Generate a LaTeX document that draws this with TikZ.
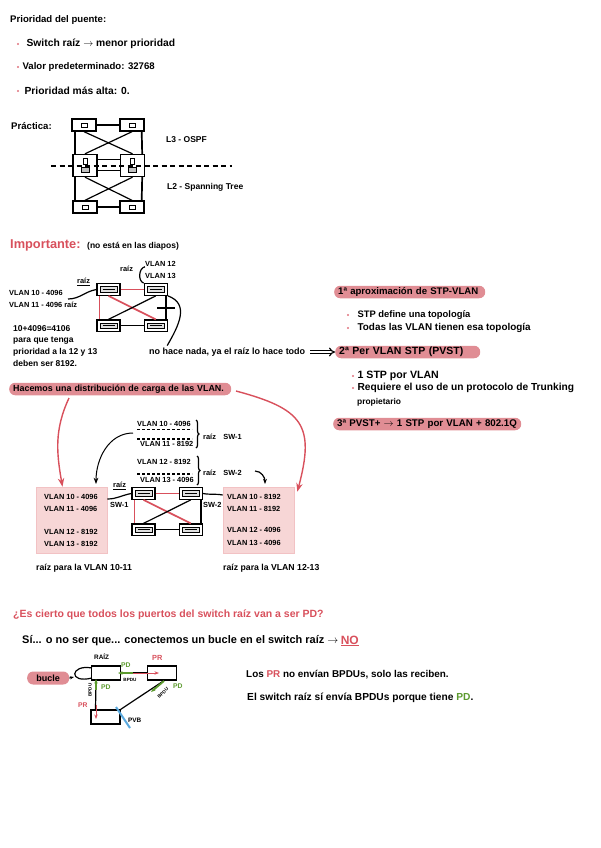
\documentclass[tikz,border=0pt]{standalone}
\usepackage{fontspec}
\setmainfont{Liberation Sans}
\usepackage{xcolor}
\usepackage{tikz}
\usetikzlibrary{arrows.meta, positioning, decorations.pathreplacing}
\definecolor{rojo}{HTML}{D8505C}
\definecolor{pillc}{HTML}{E08D94}
\definecolor{rosa}{HTML}{F7D6D6}
\definecolor{verde}{HTML}{5C9A2E}
\definecolor{azul}{HTML}{5AA9DE}
\newcommand{\fs}[1]{\fontsize{#1}{#1}\selectfont\bfseries}
\tikzset{
  txt/.style   = {anchor=west, inner sep=0pt, font=\fs{9.6}},
  sml/.style   = {anchor=west, inner sep=0pt, font=\fs{7.4}},
  mid/.style   = {anchor=west, inner sep=0pt, font=\fs{8.5}},
  mrk/.style   = {circle, fill=rojo!80, inner sep=0pt, minimum size=2.4pt},
  pill/.style  = {anchor=west, fill=pillc, rounded corners=6pt, minimum height=12.5pt,
                  inner xsep=4pt, inner ysep=0pt, align=left, font=\fs{9.6}},
  sw/.style    = {draw, line width=1.3pt, minimum width=23pt, minimum height=11.5pt, inner sep=0pt,
                  path picture={\draw[line width=1pt, fill=black!12] ([xshift=-8.5pt,yshift=-2.8pt]path picture bounding box.center)
                  rectangle ([xshift=8.5pt,yshift=2.8pt]path picture bounding box.center);
                  \draw[line width=.8pt] ([xshift=-6pt]path picture bounding box.center) -- ([xshift=6pt]path picture bounding box.center);}},
  rt/.style    = {draw, line width=1.4pt, minimum width=24pt, minimum height=12pt, inner sep=0pt,
                  path picture={\draw[line width=.6pt] ([xshift=-3pt,yshift=-2pt]path picture bounding box.center)
                  rectangle ([xshift=3pt,yshift=2pt]path picture bounding box.center);}},
  l3/.style    = {draw, line width=1.4pt, minimum width=24pt, minimum height=22pt, inner sep=0pt,
                  path picture={\draw[line width=.6pt] ([xshift=-2pt,yshift=1pt]path picture bounding box.center)
                  rectangle ([xshift=2pt,yshift=7pt]path picture bounding box.center);
                  \draw[line width=.6pt, fill=black!25] ([xshift=-4pt,yshift=-7pt]path picture bounding box.center)
                  rectangle ([xshift=4pt,yshift=-2pt]path picture bounding box.center);}},
  sq/.style    = {draw, line width=1.2pt, minimum width=29pt, minimum height=14pt, inner sep=0pt},
  lnk/.style   = {line width=1.2pt},
  lnt/.style   = {line width=1.7pt},
  lnr/.style   = {line width=1.7pt, draw=rojo},
  fl/.style    = {-{Stealth[length=2.2mm]}, line width=1pt},
  flr/.style   = {-{Stealth[length=3mm]}, line width=1.4pt, draw=rojo},
  rosabox/.style = {fill=rosa, draw=rosa!85!rojo, line width=.6pt, minimum width=71pt, minimum height=66pt, inner sep=0pt},
  ptv/.style   = {-{Stealth[length=1.6mm]}, line width=1.3pt, draw=verde},
  ptr/.style   = {-{Stealth[length=1.6mm]}, line width=1pt, draw=rojo},
}
\begin{document}
\begin{tikzpicture}[x=1pt, y=-1pt, node distance=23pt and 23pt]
  \useasboundingbox (0,0) rectangle (600,848);
  % prioridad
  \node[txt] (prio) at (10,20) {Prioridad del puente:};
  \node[mrk] (m1) at (18,44) {};
  \node[txt, right=7pt of m1, font=\fs{10.3}] (b1) {Switch raíz $\rightarrow$ menor prioridad};
  \node[mrk] (m2) at (18,67) {};
  \node[txt, right=3pt of m2] (b2) {Valor predeterminado: 32768};
  \node[mrk] (m3) at (18,91) {};
  \node[txt, right=5pt of m3, font=\fs{10.3}] (b3) {Prioridad más alta: 0.};
  \node[txt] (prac) at (11,126) {Práctica:};

  % topologia L2/L3
  \node[rt] (ra) at (84,125) {};
  \node[rt] (rb) at (132,125) {};
  \node[l3] (la) at (85,165.5) {};
  \node[l3] (lb) at (132.5,165.5) {};
  \node[rt] (sa) at (85,207) {};
  \node[rt] (sb) at (132,207) {};
  \draw[lnk] (ra) -- (rb); \draw[lnk] (sa) -- (sb);
  \draw[lnk] ([yshift=6pt]la.east) -- ([yshift=6pt]lb.west);
  \draw[lnk] ([yshift=-5pt]la.east) -- ([yshift=-5pt]lb.west);
  \draw[lnt] ([xshift=4pt]ra.south west) -- ([xshift=3pt]la.north west);
  \draw[lnt] ([xshift=-3pt]rb.south east) -- ([xshift=-3pt]lb.north east);
  \draw[lnt] ([xshift=3pt]la.south west) -- ([xshift=3pt]sa.north west);
  \draw[lnt] ([xshift=-3pt]lb.south east) -- ([xshift=-3pt]sb.north east);
  \draw[lnk] (ra.south) -- (lb.north); \draw[lnk] (rb.south) -- (la.north);
  \draw[lnk] (la.south) -- (sb.north); \draw[lnk] (lb.south) -- (sa.north);
  \coordinate (dl) at (51,166); \coordinate (dr) at (232,166);
  \draw[line width=1.2pt, dash pattern=on 5pt off 3.5pt] (dl) -- (dr);
  \node[mid] (l3t) at (166,140) {L3 - OSPF};
  \node[mid] (l2t) at (167,187) {L2 - Spanning Tree};

  % importante
  \node[txt, text=rojo, font=\fs{12.8}] (imp) at (10,245) {Importante:};
  \node[mid] (nota) at (87,246) {(no está en las diapos)};
  \node[sw] (s1) at (108.5,289.5) {};
  \node[sw, right=23pt of s1] (s2) {};
  \node[sw, below=23.5pt of s1] (s3) {};
  \node[sw, right=23pt of s3] (s4) {};
  \draw[lnr] (s1) -- (s2); \draw[lnr] ([xshift=3pt]s1.south west) -- ([xshift=3pt]s3.north west);
  \draw[lnr] (s1.south) -- (s4.north);
  \draw[lnk] (s3.north) -- (s2.south); \draw[lnk] (s3) -- (s4);
  \draw[lnk] ([xshift=-2pt]s2.south east) -- ([xshift=-2pt]s4.north east);
  \coordinate (c1) at (157,308); \coordinate (c2) at (175,308);
  \draw[lnk] (c1) -- (c2);
  \node[sml] (r1) at (77,282) {\underline{raíz}};
  \node[sml] (r2) at (120,269) {raíz};
  \node[sml] (v12) at (145,264) {VLAN 12};
  \node[sml] (v13) at (145,276) {VLAN 13};
  \draw[lnk] (v12.south west) to[out=190,in=160] (s2.north west);
  \node[sml] (v10) at (9,293) {VLAN 10 - 4096};
  \node[sml] (v11) at (9,305) {VLAN 11 - 4096 raíz};
  \coordinate (vs) at (68,299);
  \draw[lnk] (vs) to[out=0,in=190] (s1.west);
  \node[sml, align=left, font=\fs{8.5}] (suma) at (13,346) {10+4096=4106\\[3.4pt]para que tenga\\[3.4pt]prioridad a la 12 y 13\\[3.4pt]deben ser 8192.};
  \node[txt, font=\fs{9}] (nada) at (149,352) {no hace nada, ya el raíz lo hace todo};
  \draw[lnk] (s2.south east) to[out=-20,in=60,looseness=1.2] ([xshift=-60pt,yshift=2pt]nada.north);

  % pastillas
  \node[pill, text width=143pt] (p1) at (334,292) {1ª aproximación de STP-VLAN};
  \node[mrk] (m4) at (348,315) {};
  \node[txt, right=8pt of m4, font=\fs{9.4}] (b4) {STP define una topología};
  \node[mrk] (m5) at (348,328) {};
  \node[txt, right=8pt of m5, font=\fs{9.9}] (b5) {Todas las VLAN tienen esa topología};
  \node[pill, text width=137pt, font=\fs{10.5}] (p2) at (335,352) {2ª Per VLAN STP (PVST)};
  \draw[double, double distance=1.8pt, line width=1.1pt, -{Implies}] ([xshift=5pt]nada.east) -- (p2.west);
  \node[mrk] (m6) at (353,376) {};
  \node[txt, right=3pt of m6, font=\fs{10.6}] (b6) {1 STP por VLAN};
  \node[mrk] (m7) at (353,388) {};
  \node[txt, right=3pt of m7, font=\fs{10.2}] (b7) {Requiere el uso de un protocolo de Trunking};
  \node[txt, font=\fs{8.4}] (b8) at (357,402) {propietario};
  \node[pill, text width=180pt, font=\fs{9.7}] (p3) at (333,424) {3ª PVST+ $\rightarrow$ 1 STP por VLAN + 802.1Q};
  \node[pill, text width=214pt, font=\fs{8.9}] (p4) at (9,389) {Hacemos una distribución de carga de las VLAN.};

  % distribucion de carga
  \node[rosabox] (bl) at (71.5,520) {};
  \node[rosabox] (br) at (258.5,520) {};
  \coordinate (hl) at (69,398); \coordinate (hr) at (236,391);
  \draw[flr] (hl) to[out=245,in=100] ([xshift=-9pt]bl.north);
  \draw[flr] (hr) to[out=-15,in=75,looseness=1.5] ([xshift=3pt,yshift=-5pt]br.north east);
  \node[sw] (w1) at (143.5,493.5) {};
  \node[sw, right=23pt of w1] (w2) {};
  \node[sw, below=23.5pt of w1] (w3) {};
  \node[sw, right=23pt of w3] (w4) {};
  \draw[lnr] (w1) -- (w2); \draw[lnr] ([xshift=3pt]w1.south west) -- ([xshift=3pt]w3.north west);
  \draw[lnr] (w1.south) -- (w4.north);
  \draw[lnk] (w3.north) -- (w2.south); \draw[lnk] (w3) -- (w4);
  \draw[lnk] ([xshift=-2pt]w2.south east) -- ([xshift=-2pt]w4.north east);
  \draw[lnk] ([yshift=21pt]bl.east) to[out=0,in=190] (w1.west);
  \draw[lnk] (w2.east) to[out=-10,in=170] ([yshift=25pt]br.west);
  \node[sml] (rz) at (113,486) {\underline{raíz}};
  \node[sml] (sw1) at (110,505) {SW-1};
  \node[sml] (sw2) at (203,505) {SW-2};
  \node[sml] (la1) at (44,497) {VLAN 10 - 4096};
  \node[sml] (la2) at (44,509) {VLAN 11 - 4096};
  \node[sml] (la3) at (44,532) {VLAN 12 - 8192};
  \node[sml] (la4) at (44,544) {VLAN 13 - 8192};
  \node[sml] (lb1) at (227,497) {VLAN 10 - 8192};
  \node[sml] (lb2) at (227,509) {VLAN 11 - 8192};
  \node[sml] (lb3) at (227,530) {VLAN 12 - 4096};
  \node[sml] (lb4) at (227,543) {VLAN 13 - 4096};
  \node[sml, font=\fs{8.7}] (cl) at (36,568) {raíz para la VLAN 10-11};
  \node[sml, font=\fs{8.7}] (cr) at (223,568) {raíz para la VLAN 12-13};
  \node[sml] (t1) at (137,424) {VLAN 10 - 4096};
  \node[sml] (t2) at (140,444) {VLAN 11 - 8192};
  \node[sml] (t3) at (137,462) {VLAN 12 - 8192};
  \node[sml] (t4) at (140,480) {VLAN 13 - 4096};
  \coordinate (d1) at (137,429.5); \coordinate (d2) at (192,429.5);
  \coordinate (d3) at (137,439); \coordinate (d4) at (192,439);
  \coordinate (d5) at (137,474); \coordinate (d6) at (192,474);
  \draw[lnk, densely dashed] (d1) -- (d2); \draw[lnk, densely dashed] (d3) -- (d4);
  \draw[lnk, densely dashed] (d5) -- (d6);
  \coordinate (k1) at (196,420); \coordinate (k2) at (196,448);
  \coordinate (k3) at (197,456); \coordinate (k4) at (197,485);
  \draw[lnk, decorate, decoration={brace, amplitude=3pt}] (k1) -- (k2);
  \draw[lnk, decorate, decoration={brace, amplitude=3pt}] (k3) -- (k4);
  \node[sml] (rs1) at (203,437) {raíz\quad SW-1};
  \node[sml] (rs2) at (203,473) {raíz\quad SW-2};
  \coordinate (h1) at (133,433); \coordinate (h2) at (96,484);
  \draw[fl] (h1) to[out=180,in=90] (h2);
  \coordinate (h3) at (255,471); \coordinate (h4) at (265,484);
  \draw[-{Stealth[length=1.8mm]}, lnk] (h3) to[out=0,in=90] (h4);

  % pregunta
  \node[txt, text=rojo, font=\fs{10.5}] (preg) at (13,615) {¿Es cierto que todos los puertos del switch raíz van a ser PD?};
  \node[txt, font=\fs{11}] (resp) at (22,641) {Sí... o no ser que... conectemos un bucle en el switch raíz $\rightarrow$};
  \node[txt, text=rojo, right=2pt of resp, font=\fs{12}] (no) {\underline{NO}};
  \node[sq] (q1) at (106,673) {};
  \node[sq] (q2) at (162,673) {};
  \node[sq] (q3) at (105.5,717) {};
  \node[sml, font=\fs{6.4}] (traiz) at (94,657) {RAÍZ};
  \node[sml, text=rojo] (tpr) at (152,658) {PR};
  \node[sml, text=rojo, font=\fs{6.8}] (tpr2) at (78,705) {PR};
  \node[sml, font=\fs{6.4}] (tpvb) at (128,720) {PVB};
  \node[pill, text width=32pt, inner xsep=5pt, minimum height=13pt, font=\fs{9}, align=center] (buc) at (27,678) {bucle};
  \coordinate (lp) at (92,668); \coordinate (lq) at (92,678);
  \draw[lnk] (lp) .. controls (70,664) and (68,684) .. (lq);
  \coordinate (lr) at (74,677);
  \draw[-{Stealth[length=1.4mm]}, lnk] (buc.east) -- (lr);
  \draw[lnk] ([xshift=-10pt]q1.south) -- ([xshift=-10pt]q3.north);
  \draw[lnk] (q1) -- (q2);
  \draw[lnk] ([xshift=2pt]q2.south) -- (q3.north east);
  % puertos
  \coordinate (g1) at (133,673); \coordinate (g2) at (118,673);
  \draw[ptv] (g1) -- (g2);
  \coordinate (g3) at (96,690); \coordinate (g4) at (96,679);
  \draw[ptv] (g3) -- (g4);
  \coordinate (g5) at (164,681); \coordinate (g6) at (151,692);
  \draw[ptv, line width=1.8pt] (g5) -- (g6);
  \coordinate (e1) at (133,673); \coordinate (e2) at (159,673);
  \draw[ptr] (e1) -- (e2);
  \coordinate (e3) at (96,705); \coordinate (e4) at (96,719);
  \draw[ptr] (e3) -- (e4);
  \coordinate (a1) at (116,707); \coordinate (a2) at (130,728);
  \draw[azul, line width=2pt] (a1) -- (a2);
  \node[sml, text=verde, font=\fs{6.8}] (pd1) at (121,665) {PD};
  \node[sml, text=verde, font=\fs{6.8}] (pd2) at (101,687) {PD};
  \node[sml, text=verde, font=\fs{6.8}] (pd3) at (173,686) {PD};
  \node[sml, font=\fs{4.6}, anchor=center, rotate=90] (bp1) at (90,690) {BPDU};
  \node[sml, font=\fs{4.6}, anchor=center] (bp2) at (130,680) {BPDU};
  \node[sml, font=\fs{4.6}, anchor=center, rotate=45] (bp3) at (163,693) {BPDU};
  \node[txt, font=\fs{9.9}] (tx1) at (246,675) {Los \textcolor{rojo}{PR} no envían BPDUs, solo las reciben.};
  \node[txt, font=\fs{10.2}] (tx2) at (247,698) {El switch raíz sí envía BPDUs porque tiene \textcolor{verde}{PD}.};
\end{tikzpicture}
\end{document}
